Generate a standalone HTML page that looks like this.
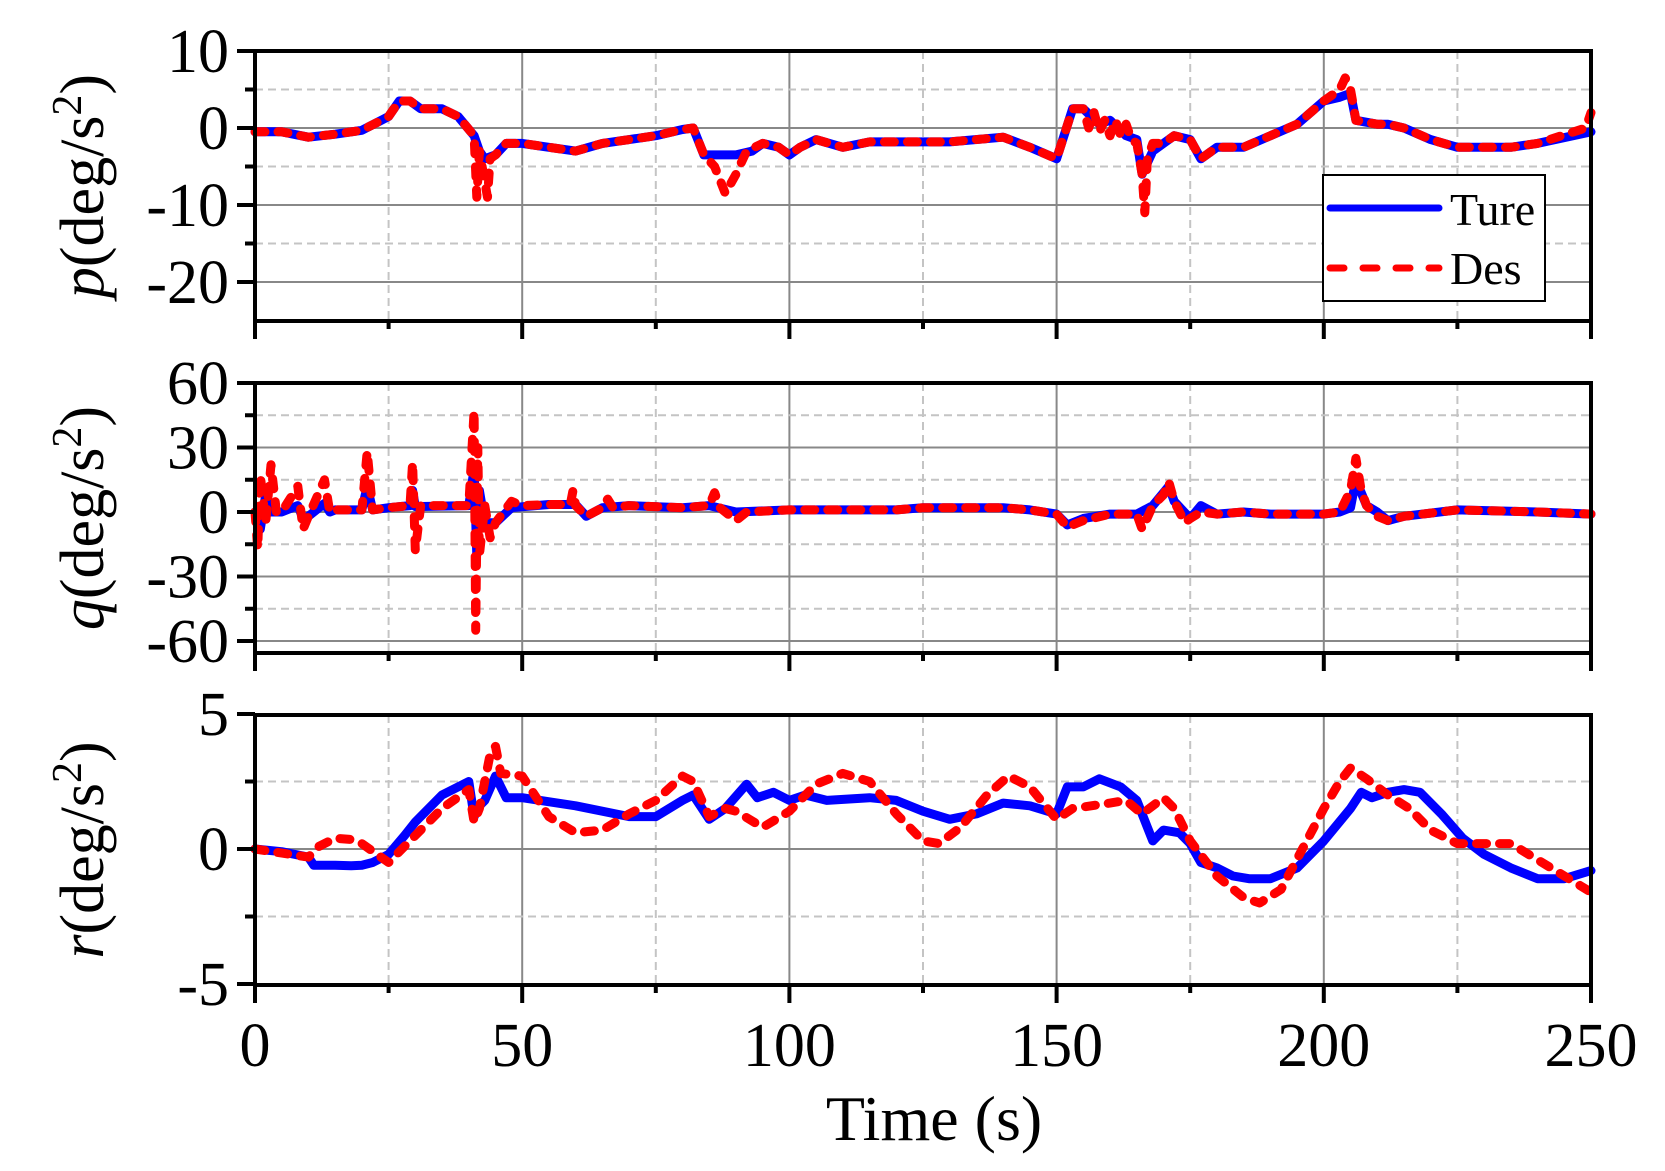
<!DOCTYPE html>
<html><head><meta charset="utf-8"><style>
html,body{margin:0;padding:0;background:#fff;}
svg{display:block;font-family:"Liberation Serif",serif;}
</style></head><body>
<svg id="s" width="1665" height="1171" viewBox="0 0 1665 1171" xmlns="http://www.w3.org/2000/svg"></svg>
<script>
const S=document.getElementById('s');
let h='';
const L=255,R=1591;
const X=t=>L+t*(R-L)/250;
const panels=[
 {top:51,bot:321,ppu:7.7,zero:128,major:[10,0,-10,-20],minor:[5,-5,-15],gridS:[0,-10,-20],gridD:[5,-5,-15],lab:'p'},
 {top:383,bot:653,ppu:2.15,zero:512,major:[60,30,0,-30,-60],minor:[45,15,-15,-45],gridS:[30,0,-30,-60],gridD:[45,15,-15,-45],lab:'q'},
 {top:715,bot:985,ppu:27,zero:849,major:[5,0,-5],minor:[2.5,-2.5],gridS:[0],gridD:[2.5,-2.5],lab:'r'}
];
const data={
p:{t:[[0,-0.5],[5,-0.5],[10,-1.2],[15,-0.8],[20,-0.3],[25,1.5],[27,3.5],[29,3.5],[31,2.5],[35,2.5],[38,1.5],[41,-1],[42,-3],[43,-4],[45,-3.5],[47,-2],[50,-2],[55,-2.5],[60,-3],[65,-2],[70,-1.5],[75,-1],[80,-0.2],[82,0],[84,-3.5],[90,-3.5],[93,-3],[95,-2],[98,-2.5],[100,-3.5],[102,-2.5],[105,-1.5],[110,-2.5],[115,-1.8],[130,-1.8],[140,-1.2],[145,-2.5],[150,-4],[153,2.5],[155,2.5],[158,0.5],[160,1],[163,-1],[165,-1.5],[166,-6],[168,-3],[170,-2],[172,-1],[175,-1.5],[177,-4],[180,-2.5],[185,-2.5],[190,-1],[195,0.5],[200,3.5],[203,4],[205,4.5],[206,1],[210,0.5],[212,0.5],[215,0],[220,-1.5],[225,-2.5],[235,-2.5],[240,-2],[250,-0.5]],
 d:[[0,-0.5],[5,-0.5],[10,-1.2],[15,-0.8],[20,-0.3],[25,1.5],[27,3.5],[29,3.5],[31,2.5],[35,2.5],[38,1.5],[41,-1],[41.5,-9],[42,-3],[43.5,-9],[44,-4],[45,-3.5],[47,-2],[50,-2],[55,-2.5],[60,-3],[65,-2],[70,-1.5],[75,-1],[80,-0.2],[82,0],[84,-3.5],[86,-5],[88,-8.5],[90,-6],[92,-3],[95,-2],[98,-2.5],[100,-3.5],[102,-2.5],[105,-1.5],[110,-2.5],[115,-1.8],[130,-1.8],[140,-1.2],[145,-2.5],[150,-4],[153,2.5],[155,2.5],[156,0],[157,2],[158,-0.5],[159,1],[160,-1],[161,1],[162,-1],[163,0.5],[164,-1.5],[165,-2],[166,-6],[166.5,-11],[167,-4],[168,-2],[170,-2],[172,-1],[175,-1.5],[177,-4],[180,-2.5],[185,-2.5],[190,-1],[195,0.5],[200,3.5],[203,5],[204,6.5],[205,5],[206,1],[210,0.5],[212,0.5],[215,0],[220,-1.5],[225,-2.5],[235,-2.5],[240,-2],[249,0],[250,2]]},
q:{t:[[0,0],[1,-8],[2,8],[3,0],[5,0],[8,3],[9,-3],[10,-2],[13,4],[14,0],[15,1],[20,1],[21,12],[22,1],[25,2],[29,3],[29.5,10],[30,2.5],[40,3],[41,20],[41.5,-20],[42,10],[43,-5],[45,-5],[48,2],[55,3.5],[60,3.5],[62,-2],[65,2],[70,3],[80,2],[85,3],[90,0],[100,1],[120,1],[125,2],[140,2],[145,1],[150,-1],[152,-6],[155,-3],[160,-1],[165,-1],[168,3],[171,12],[172,5],[175,-3],[177,3],[180,-1],[185,0],[190,-1],[200,-1],[203,0],[205,2],[206,15],[208,3],[210,0],[212,-4],[215,-2],[225,1],[240,0],[250,-1]],
 d:[[0,0],[0.5,-17],[1,17],[2,-5],[3,22],[4,0],[5,0],[8,12],[9,-8],[10,-2],[13,15],[14,0],[15,1],[20,1],[21,28],[22,1],[25,2],[29,3],[29.5,23],[30,-18],[31,3],[40,3],[41,47],[41.3,-55],[41.7,30],[42,-20],[43,3],[44,-12],[45,-5],[48,5],[50,3],[55,3.5],[59,3.5],[59.5,10],[60,3],[62,-2],[65,2],[66,6],[67,2],[70,3],[80,2],[85,3],[86,9],[87,2],[90,-4],[92,0],[100,1],[120,1],[125,2],[140,2],[145,1],[150,-1],[152,-7],[155,-4],[160,-1],[165,-1],[166,-8],[168,3],[170,8],[171,14],[172,5],[174,-5],[175,-3],[177,0],[180,-1],[185,0],[190,-1],[200,-1],[203,0],[205,10],[206,25],[207,10],[208,3],[210,-2],[212,-4],[215,-2],[225,1],[240,0],[250,-1]]},
r:{t:[[0,0],[5,-0.1],[10,-0.3],[11,-0.6],[15,-0.6],[18,-0.62],[20,-0.6],[22,-0.5],[25,-0.2],[28,0.5],[30,1],[35,2],[40,2.5],[41,1.2],[42,1.6],[43,1.8],[45,2.7],[47,1.9],[50,1.9],[60,1.6],[70,1.2],[75,1.2],[80,1.8],[82,2],[85,1.1],[88,1.5],[92,2.4],[94,1.9],[97,2.1],[100,1.8],[103,2],[107,1.8],[115,1.9],[120,1.8],[125,1.4],[130,1.1],[135,1.3],[140,1.7],[145,1.6],[150,1.3],[152,2.3],[155,2.3],[158,2.6],[162,2.3],[165,1.8],[167,0.8],[168,0.3],[170,0.7],[173,0.6],[175,0.2],[177,-0.5],[180,-0.7],[183,-1],[186,-1.1],[190,-1.1],[195,-0.7],[200,0.3],[205,1.5],[207,2.1],[209,1.9],[212,2.1],[215,2.2],[218,2.1],[222,1.3],[226,0.4],[230,-0.2],[235,-0.7],[240,-1.1],[245,-1.1],[250,-0.8]],
 d:[[0,0],[10,-0.3],[12,0.1],[15,0.4],[18,0.35],[20,0.2],[25,-0.5],[30,0.5],[35,1.5],[40,2.2],[41,1],[42,1.5],[44,3.5],[45,3.8],[46,2.8],[50,2.7],[55,1.2],[60,0.6],[65,0.7],[70,1.3],[75,1.8],[80,2.7],[82,2.5],[85,1.2],[88,1.5],[90,1.4],[95,0.8],[100,1.4],[105,2.4],[110,2.8],[115,2.5],[120,1.3],[125,0.3],[128,0.2],[132,0.8],[137,2],[141,2.7],[145,2.3],[150,1.1],[153,1.5],[160,1.7],[163,1.8],[166,1.3],[168,1.6],[170,1.9],[172,1.5],[175,0.3],[180,-1],[185,-1.8],[188,-2],[192,-1.5],[196,0],[200,1.5],[203,2.5],[205,3],[208,2.6],[212,2],[216,1.5],[220,0.7],[225,0.2],[230,0.2],[235,0.2],[240,-0.4],[245,-1],[250,-1.6]]}
};
panels.forEach(p=>{
 const Y=v=>p.zero-v*p.ppu;
 for(let t=25;t<250;t+=25){
  const solid=t%50==0;
  h+=`<line x1="${X(t)}" y1="${p.top}" x2="${X(t)}" y2="${p.bot}" stroke="${solid?'#888':'#c4c4c4'}" stroke-width="2" ${solid?'':'stroke-dasharray="8,5"'}/>`;
 }
 p.gridS.forEach(v=>{h+=`<line x1="${L}" y1="${Y(v)}" x2="${R}" y2="${Y(v)}" stroke="#888" stroke-width="2"/>`;});
 p.gridD.forEach(v=>{h+=`<line x1="${L}" y1="${Y(v)}" x2="${R}" y2="${Y(v)}" stroke="#c4c4c4" stroke-width="2" stroke-dasharray="8,5"/>`;});
 const d=data[p.lab];
 const pts=a=>a.map(q=>X(q[0]).toFixed(1)+','+Y(q[1]).toFixed(1)).join(' ');
 h+=`<polyline points="${pts(d.t)}" fill="none" stroke="#0000ff" stroke-width="9" stroke-linejoin="round" stroke-linecap="round"/>`;
 h+=`<polyline points="${pts(d.d)}" fill="none" stroke="#ff0000" stroke-width="9" stroke-linecap="round" stroke-linejoin="round" stroke-dasharray="10,13"/>`;
 h+=`<rect x="${L}" y="${p.top}" width="${R-L}" height="${p.bot-p.top}" fill="none" stroke="#000" stroke-width="4"/>`;
 p.major.forEach(v=>{h+=`<line x1="${L-18}" y1="${Y(v)}" x2="${L}" y2="${Y(v)}" stroke="#000" stroke-width="4"/>`;
  h+=`<text x="${L-26}" y="${Y(v)+21}" font-size="62" text-anchor="end">${v}</text>`;});
 p.minor.forEach(v=>{h+=`<line x1="${L-10}" y1="${Y(v)}" x2="${L}" y2="${Y(v)}" stroke="#000" stroke-width="4"/>`;});
 for(let t=0;t<=250;t+=25){const mj=t%50==0;
  h+=`<line x1="${X(t)}" y1="${p.bot}" x2="${X(t)}" y2="${p.bot+(mj?18:8)}" stroke="#000" stroke-width="4"/>`;}
 const cy=(p.top+p.bot)/2;
 h+=`<text transform="translate(103,${cy}) rotate(-90)" font-size="62" text-anchor="middle"><tspan font-style="italic">${p.lab}</tspan>(deg/s<tspan font-size="42" dy="-22">2</tspan><tspan dy="22">)</tspan></text>`;
});
for(let t=0;t<=250;t+=50){h+=`<text x="${X(t)}" y="1066" font-size="62" text-anchor="middle">${t}</text>`;}
h+=`<text x="934" y="1140" font-size="64" text-anchor="middle">Time (s)</text>`;
h+=`<rect x="1323" y="175" width="222" height="126" fill="#fff" stroke="#000" stroke-width="2"/>`;
h+=`<line x1="1330" y1="208" x2="1439" y2="208" stroke="#0000ff" stroke-width="7" stroke-linecap="round"/>`;
h+=`<line x1="1330" y1="268" x2="1439" y2="268" stroke="#ff0000" stroke-width="7" stroke-linecap="round" stroke-dasharray="14,19"/>`;
h+=`<text x="1450" y="225" font-size="46">Ture</text><text x="1450" y="284" font-size="46">Des</text>`;
S.innerHTML=h;
</script>
</body></html>
